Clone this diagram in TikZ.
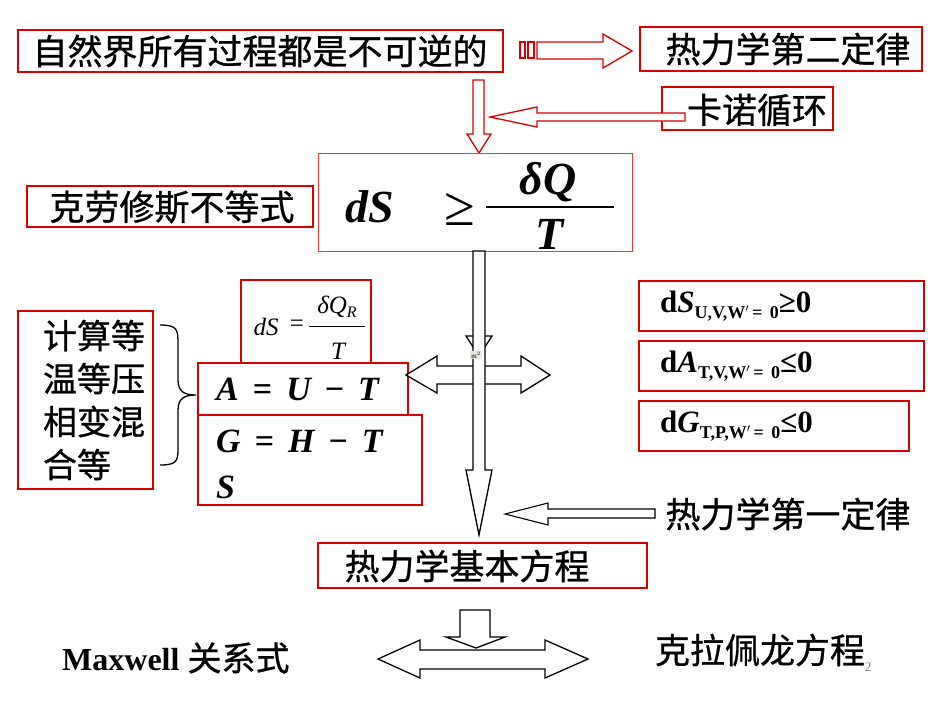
\documentclass[tikz,border=0pt]{standalone}
\usepackage{fontspec}
\setmainfont{Liberation Serif}
\newfontfamily\cjk[FakeBold=0.8]{Noto Sans CJK SC}
\begin{document}
\begin{tikzpicture}[x=1pt,y=-1pt,
  rbox/.style={draw=red!85!black,line width=1.6pt},
  tbox/.style={draw=red!80,line width=0.8pt},
  barr/.style={draw=black,line width=1.3pt,fill=white,line join=miter},
  rarr/.style={draw=red!85!black,line width=1.3pt,fill=white},
  zh/.style={font=\cjk\fontsize{35}{40}\selectfont,inner sep=0pt},
  bi/.style={font=\bfseries\itshape\fontsize{34}{38}\selectfont,inner sep=0pt},
  rt/.style={font=\bfseries\fontsize{31}{36}\selectfont,inner sep=0pt,anchor=west}]
\useasboundingbox (0,0) rectangle (950,713);
% top boxes
\draw[rbox] (18,30) rectangle (503,72);
\node[zh] (t1) at (260,51) {自然界所有过程都是不可逆的};
\draw[rbox] (640,27) rectangle (922,71);
\node[zh] (t2) at (788,49) {热力学第二定律};
\draw[rbox] (662,87) rectangle (833,130);
\node[zh] (t3) at (757,110) {卡诺循环};
% red arrows
\draw[rarr] (520,42) rectangle (525,58);
\draw[rarr] (528,42) rectangle (534,58);
\draw[rarr] (537,42) -- (603,42) -- (603,34) -- (632,51) -- (603,68) -- (603,59) -- (537,59) -- cycle;
\draw[rarr] (473,80) -- (484,80) -- (484,134) -- (491,134) -- (479,153) -- (467,134) -- (473,134) -- cycle;
\draw[rarr] (685,113) -- (537,113) -- (537,107) -- (490,117) -- (537,127) -- (537,121) -- (685,121) -- cycle;
% clausius
\draw[tbox] (318,153) rectangle (632,251);
\node[font=\bfseries\itshape\fontsize{46}{50}\selectfont,inner sep=0pt] (f1) at (370,207) {dS};
\node[font=\fontsize{56}{60}\selectfont,inner sep=0pt] (ge) at (460,209) {≥};
\draw[line width=2.2pt] (486,207) -- (614,207);
\node[font=\bfseries\itshape\fontsize{46}{50}\selectfont,inner sep=0pt] (f2) at (548,182) {\char"03B4 Q};
\node[font=\bfseries\itshape\fontsize{46}{50}\selectfont,inner sep=0pt] (f3) at (550,234) {T};
\draw[rbox] (27,186) rectangle (313,227);
\node[zh] (t4) at (172,207) {克劳修斯不等式};
% dS = dQR/T
\draw[rbox,line width=1.2pt] (241,280) rectangle (371,365);
\node[font=\itshape\fontsize{25}{28}\selectfont,inner sep=0pt] (e1) at (266,327) {dS};
\node[font=\fontsize{25}{28}\selectfont,inner sep=0pt] (e2) at (297,326) {=};
\draw[line width=0.6pt] (309,326) -- (365,326);
\node[font=\itshape\fontsize{25}{28}\selectfont,inner sep=0pt] (e3) at (337,307) {\char"03B4 Q\raisebox{-4pt}{\fontsize{16}{18}\selectfont R}};
\node[font=\itshape\fontsize{25}{28}\selectfont,inner sep=0pt] (e4) at (338,351) {T};
% A, G boxes
\draw[rbox,fill=white] (198,363) rectangle (408,415);
\node[bi,anchor=west] (a1) at (216,389) {A\hspace{14pt}{\upshape =}\hspace{14pt}U\hspace{14pt}{\upshape −}\hspace{14pt}T};
\draw[rbox] (198,415) rectangle (422,505);
\node[bi,anchor=west] (g1) at (216,441) {G\hspace{14pt}{\upshape =}\hspace{14pt}H\hspace{14pt}{\upshape −}\hspace{14pt}T};
\node[bi,anchor=west] (g2) at (216,487) {S};
% left box
\draw[rbox] (18,311) rectangle (153,489);
\node[zh,align=left,font=\cjk\fontsize{34}{43}\selectfont] (t5) at (94,400) {计算等\\温等压\\相变混\\合等};
\draw[line width=1.3pt] (160,325) .. controls (178,325) and (178,330) .. (178,345) -- (178,380) .. controls (178,392) and (185,395) .. (196,395) .. controls (185,395) and (178,398) .. (178,410) -- (178,450) .. controls (178,462) and (175,465) .. (160,465);
% central black arrows
\draw[barr] (406,375) -- (437,356) -- (437,366) -- (521,366) -- (521,356) -- (550,375) -- (521,393) -- (521,384) -- (437,384) -- (437,393) -- cycle;
\draw[barr] (466,336) -- (492,336) -- (479,356) -- cycle;
\draw[barr] (473,251) -- (485,251) -- (485,470) -- (492,470) -- (479,535) -- (466,470) -- (473,470) -- cycle;
\node[fill=yellow!10!gray!20,inner sep=1pt,font=\fontsize{7}{8}\selectfont] (m) at (476,355) {m$^2$};
% right boxes
\draw[rbox] (639,281) rectangle (924,331);
\node[rt] (r1) at (660,306) {d\textit{S}\raisebox{-6pt}{\fontsize{18}{18}\selectfont U,V,W$'$\,=\, 0}≥0};
\draw[rbox] (639,341) rectangle (924,391);
\node[rt] (r2) at (660,366) {d\textit{A}\raisebox{-6pt}{\fontsize{18}{18}\selectfont T,V,W$'$\,=\, 0}≤0};
\draw[rbox] (639,401) rectangle (909,451);
\node[rt] (r3) at (660,426) {d\textit{G}\raisebox{-6pt}{\fontsize{18}{18}\selectfont T,P,W$'$\,=\, 0}≤0};
% first law
\node[zh] (t6) at (788,514) {热力学第一定律};
\draw[barr,line width=1.1pt] (655,509) -- (548,509) -- (548,503) -- (505,514) -- (548,525) -- (548,518) -- (655,518) -- cycle;
\draw[rbox] (318,543) rectangle (647,588);
\node[zh] (t7) at (467,566) {热力学基本方程};
% bottom
\draw[barr] (378,659) -- (420,640) -- (420,650) -- (545,650) -- (545,640) -- (588,659) -- (545,678) -- (545,669) -- (420,669) -- (420,678) -- cycle;
\draw[barr] (460,610) -- (490,610) -- (490,637) -- (505,637) -- (476,648) -- (446,637) -- (460,637) -- cycle;
\node[inner sep=0pt,anchor=west] (mx) at (62,658) {\bfseries\fontsize{32}{36}\selectfont Maxwell \cjk\mdseries\fontsize{34}{36}\selectfont 关系式};
\node[zh] (t8) at (760,650) {克拉佩龙方程};
\node[font=\fontsize{13}{14}\selectfont,text=gray] (pg) at (868,667) {2};
\end{tikzpicture}
\end{document}
